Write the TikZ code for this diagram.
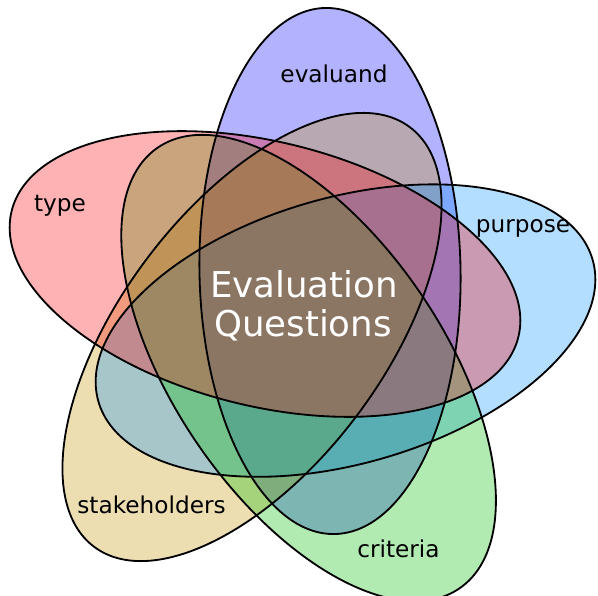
\documentclass[tikz,border=0pt]{standalone}
\usepackage{fontspec}
\setmainfont{DejaVu Sans}
\usepackage{tikz}
\usetikzlibrary{shapes.geometric}
\definecolor{evalblue}{RGB}{0,0,255}
\definecolor{purposeblue}{RGB}{5,145,255}
\definecolor{critgreen}{RGB}{0,188,0}
\definecolor{stakesand}{RGB}{195,145,0}
\definecolor{typered}{RGB}{255,0,5}

\begin{document}
\begin{tikzpicture}[x=0.025cm, y=-0.025cm,
		setfill/.style={ellipse, draw=none, inner sep=0pt, fill opacity=0.3},
		setrim/.style={ellipse, draw=black, line width=1.3pt, inner sep=0pt, fill=none},
		setlabel/.style={anchor=base, text=black, font=\fontsize{16.5}{20}\selectfont},
		biglabel/.style={anchor=base, text=white, font=\fontsize{25.3}{28}\selectfont}
		]
		\useasboundingbox (0,0) rectangle (598,596);
		
		% fills first, outlines on top
		\foreach \nm/\cx/\cy/\rx/\ry/\ang/\col in {evaluand/330/271/13.15/6.525/91/evalblue, stakeholders/252/337/13.125/6.55/53/stakesand, purpose/345.5/330.6/12.85/6.65/16/purposeblue, criteria/308.6/368/13.35/6.725/-55.6/critgreen, type/265/274/13.05/6.6/-14/typered}
		\node[setfill, fill=\col, minimum width=\rx cm, minimum height=\ry cm, rotate=\ang] (\nm) at (\cx,\cy) {};
		\foreach \nm/\rx/\ry/\ang in {evaluand/13.15/6.525/91, stakeholders/13.125/6.55/53, purpose/12.85/6.65/16, criteria/13.35/6.725/-55.6, type/13.05/6.6/-14}
		\node[setrim, minimum width=\rx cm, minimum height=\ry cm, rotate=\ang] (\nm-rim) at (\nm.center) {};
		
		\node[setlabel] (evaluandlabel) at (334,83) {evaluand};
		\node[setlabel] (purposelabel) at (523,233) {purpose};
		\node[setlabel] (typelabel) at (60,212) {type};
		\node[setlabel] (stakeholderslabel) at (151.5,513) {stakeholders};
		\node[setlabel] (criterialabel) at (398.5,557) {criteria};
		
		\node[biglabel] (question1) at (304,298) {Evaluation};
		\node[biglabel] (question2) at (303,337) {Questions};
\end{tikzpicture}
\end{document}
